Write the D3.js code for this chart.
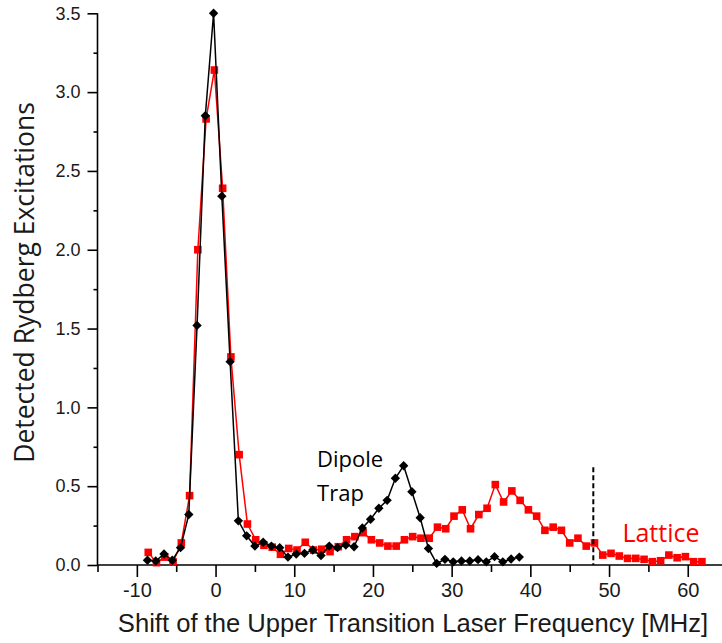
<!DOCTYPE html>
<html>
<head>
<meta charset="utf-8">
<script src="https://cdn.jsdelivr.net/npm/d3@7"></script>
<style>
  html, body { margin: 0; padding: 0; background: #fff; }
  svg { display: block; }
</style>
</head>
<body>
<svg id="chart" width="722" height="643"></svg>
<script>
// Detuning of the upper transition laser [MHz] and detected excitations
const dipoleX = [-8.65, -7.6, -6.55, -5.5, -4.45, -3.4, -2.35, -1.3, -0.25, 0.8,
  1.85, 2.9, 3.95, 5.0, 6.05, 7.1, 8.15, 9.2, 10.25, 11.3,
  12.35, 13.4, 14.45, 15.5, 16.55, 17.6, 18.65, 19.7, 20.75, 21.8,
  22.85, 23.9, 24.95, 26.0, 27.05, 28.1, 29.15, 30.2, 31.25, 32.3,
  33.35, 34.4, 35.45, 36.5, 37.55, 38.6];
const dipoleY = [0.03, 0.025, 0.07, 0.03, 0.11, 0.32, 1.52, 2.85, 3.50, 2.34,
  1.29, 0.28, 0.185, 0.12, 0.144, 0.12, 0.11, 0.05, 0.07, 0.074,
  0.095, 0.06, 0.12, 0.11, 0.127, 0.116, 0.235, 0.29, 0.36, 0.41,
  0.55, 0.63, 0.465, 0.30, 0.105, 0.01, 0.036, 0.02, 0.025, 0.025,
  0.034, 0.02, 0.053, 0.02, 0.038, 0.05];

const latticeX = [-8.55, -7.5, -6.45, -5.4, -4.35, -3.3, -2.25, -1.2, -0.15, 0.9,
  1.95, 3.0, 4.05, 5.1, 6.15, 7.2, 8.25, 9.3, 10.35, 11.4,
  12.45, 13.5, 14.55, 15.6, 16.65, 17.7, 18.75, 19.8, 20.85, 21.9,
  22.95, 24.0, 25.05, 26.1, 27.15, 28.2, 29.25, 30.3, 31.35, 32.4,
  33.45, 34.5, 35.55, 36.6, 37.65, 38.7, 39.75, 40.8, 41.85, 42.9,
  43.95, 45.0, 46.05, 47.1, 48.15, 49.2, 50.25, 51.3, 52.35, 53.4,
  54.45, 55.5, 56.55, 57.6, 58.65, 59.7, 60.75, 61.8];
const latticeY = [0.08, 0.015, 0.05, 0.02, 0.14, 0.44, 2.0, 2.83, 3.14, 2.39,
  1.32, 0.70, 0.26, 0.16, 0.125, 0.113, 0.068, 0.105, 0.095, 0.144,
  0.095, 0.10, 0.085, 0.116, 0.16, 0.18, 0.205, 0.16, 0.14, 0.12,
  0.12, 0.16, 0.18, 0.17, 0.17, 0.24, 0.23, 0.31, 0.35, 0.23,
  0.32, 0.36, 0.51, 0.40, 0.47, 0.41, 0.35, 0.31, 0.22, 0.24,
  0.22, 0.14, 0.17, 0.12, 0.14, 0.063, 0.074, 0.057, 0.042, 0.042,
  0.036, 0.021, 0.027, 0.063, 0.046, 0.053, 0.021, 0.021];

const xTicks = [-10, 0, 10, 20, 30, 40, 50, 60];
const xMinorTicks = [-15, -5, 5, 15, 25, 35, 45, 55, 65];
const yTicks = [0, 0.5, 1.0, 1.5, 2.0, 2.5, 3.0, 3.5];
const yMinorTicks = [0.25, 0.75, 1.25, 1.75, 2.25, 2.75, 3.25];
const cutoffX = 48;
const cutoffTop = 0.62;

const xTitle = "Shift of the Upper Transition Laser Frequency [MHz]";
const yTitle = "Detected Rydberg Excitations";

const svg = d3.select("#chart");
const W = 722, H = 643;
const margin = { left: 97.5, top: 13.3, bottom: 78 };

const x = d3.scaleLinear().domain([-15, 65]).range([margin.left, margin.left + 80 * 7.87]);
const y = d3.scaleLinear().domain([0, 3.5]).range([H - margin.bottom, margin.top]);

const tickFont = "'Liberation Sans', Arial, sans-serif";
const labelFont = "'Open Sans', 'Noto Sans', sans-serif";

// axes: major ticks with labels, minor ticks without
const gx = svg.append("g").attr("transform", `translate(0,${y(0)})`);
const gxMajor = gx.append("g").call(
  d3.axisBottom(x).tickValues(xTicks).tickSize(12).tickPadding(6)
    .tickFormat(d => d < 0 ? "-" + Math.abs(d) : String(d)));
const gxMinor = gx.append("g").call(
  d3.axisBottom(x).tickValues(xMinorTicks).tickSize(7).tickFormat(() => ""));

const gy = svg.append("g").attr("transform", `translate(${x(-15)},0)`);
const gyMajor = gy.append("g").call(
  d3.axisLeft(y).tickValues(yTicks).tickSize(10).tickPadding(7).tickFormat(d3.format(".1f")));
const gyMinor = gy.append("g").call(
  d3.axisLeft(y).tickValues(yMinorTicks).tickSize(4).tickFormat(() => ""));

svg.selectAll(".domain").attr("stroke", "#000").attr("stroke-width", 1.6);
svg.selectAll(".tick line").attr("stroke", "#000").attr("stroke-width", 1.6);
gxMajor.selectAll(".tick text").attr("font-family", tickFont).attr("font-size", 20).attr("fill", "#1a1a1a");
gyMajor.selectAll(".tick text").attr("font-family", tickFont).attr("font-size", 18).attr("fill", "#1a1a1a");
gxMinor.select(".domain").remove();
gyMinor.select(".domain").remove();
gxMajor.select(".domain").attr("d", `M${x(-15)},0H${W}`);
gyMajor.select(".domain").attr("d", `M0,${y(3.5)}V${y(0)}`);

// axis titles
svg.append("text")
  .attr("x", (118 + 708) / 2).attr("y", 632)
  .attr("text-anchor", "middle")
  .attr("font-family", tickFont).attr("font-size", 25.6).attr("fill", "#1a1a1a")
  .text(xTitle);

svg.append("text")
  .attr("transform", `translate(33.5,${(100 + 465) / 2}) rotate(-90)`)
  .attr("text-anchor", "middle")
  .attr("font-family", labelFont).attr("font-size", 26.5).attr("fill", "#1a1a1a")
  .text(yTitle);

// series
const lattice = latticeX.map((v, i) => [v, latticeY[i]]);
const dipole = dipoleX.map((v, i) => [v, dipoleY[i]]);
const line = d3.line().x(d => x(d[0])).y(d => y(d[1]));

svg.append("path").datum(lattice).attr("d", line)
  .attr("fill", "none").attr("stroke", "#ff0000").attr("stroke-width", 1.5);
svg.append("g").selectAll("rect").data(lattice).join("rect")
  .attr("x", d => x(d[0]) - 3.8).attr("y", d => y(d[1]) - 3.8)
  .attr("width", 7.6).attr("height", 7.6).attr("fill", "#ff0000");

svg.append("path").datum(dipole).attr("d", line)
  .attr("fill", "none").attr("stroke", "#000").attr("stroke-width", 1.5);
svg.append("g").selectAll("path").data(dipole).join("path")
  .attr("d", d3.symbol().type(d3.symbolDiamond2).size(56))
  .attr("transform", d => `translate(${x(d[0])},${y(d[1])})`)
  .attr("fill", "#000");

// cut-off marker
svg.append("line")
  .attr("x1", x(cutoffX)).attr("x2", x(cutoffX))
  .attr("y1", y(cutoffTop)).attr("y2", y(0))
  .attr("stroke", "#000").attr("stroke-width", 2).attr("stroke-dasharray", "5,3");

// series labels
svg.append("text").attr("x", x(12.9)).attr("y", 467)
  .attr("font-family", labelFont).attr("font-size", 22).attr("fill", "#000").text("Dipole");
svg.append("text").attr("x", x(12.9)).attr("y", 501)
  .attr("font-family", labelFont).attr("font-size", 22).attr("fill", "#000").text("Trap");
svg.append("text").attr("x", x(51.7)).attr("y", 541.5)
  .attr("font-family", labelFont).attr("font-size", 25).attr("fill", "#ff0000").text("Lattice");
</script>
</body>
</html>
